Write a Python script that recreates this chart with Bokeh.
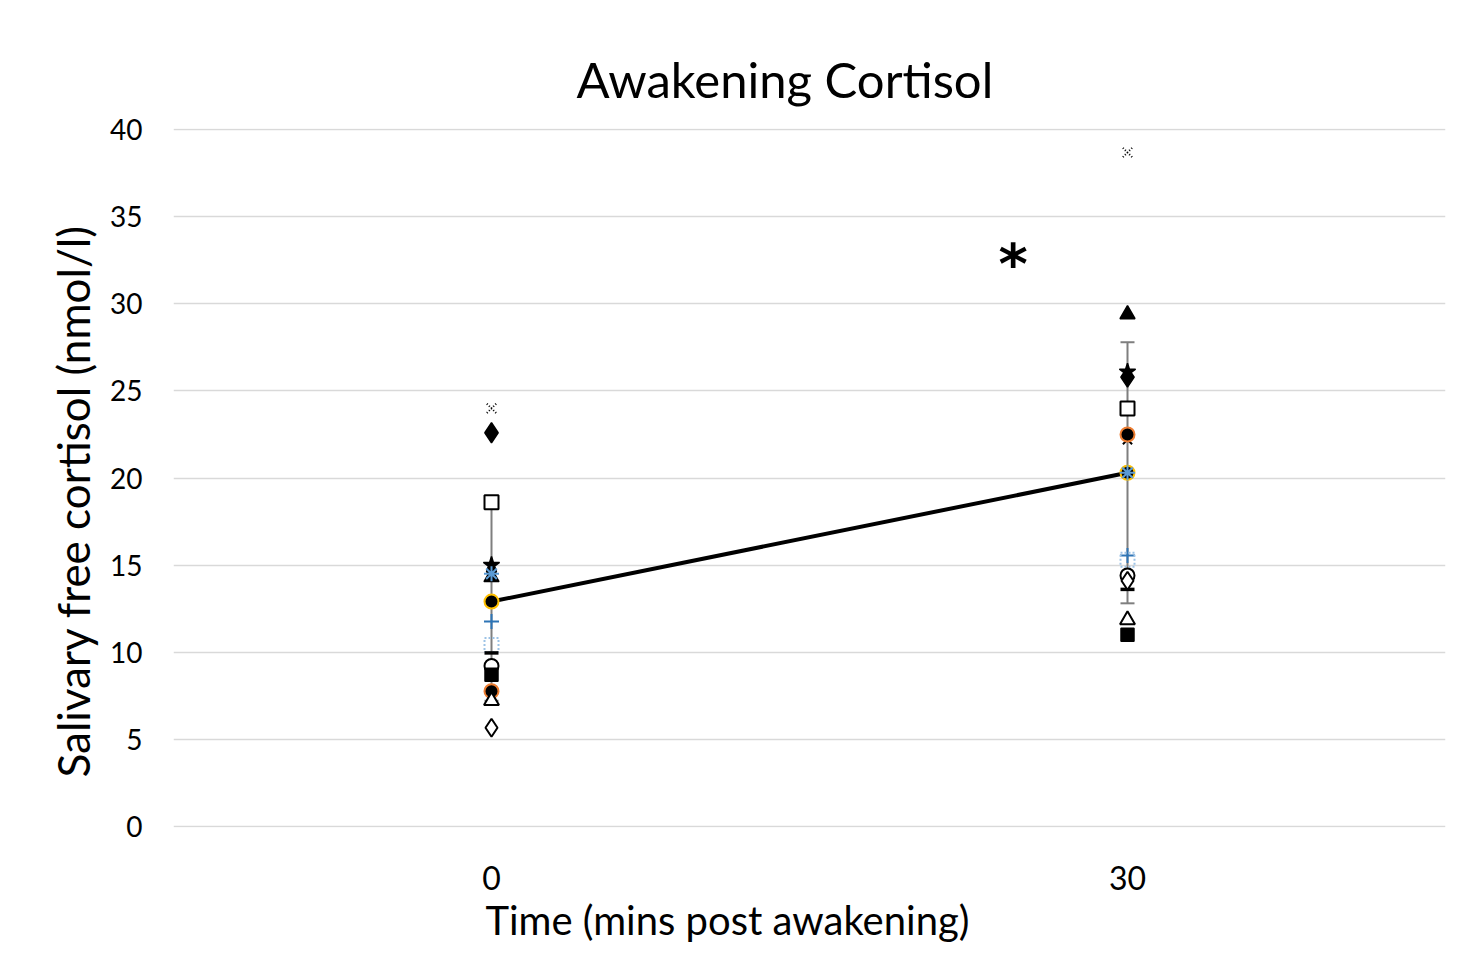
from bokeh.plotting import figure
from bokeh.models import Label, FixedTicker, ColumnDataSource, Whisker, TeeHead, Title
from bokeh.embed import file_html
from bokeh.resources import INLINE

FONT = "Lato"

times = [0, 30]
tick_labels = {0: "0", 30: "30"}

# individual subjects: value at 0 min, value at 30 min
s_dotx    = [24.0, 38.7]
s_fdiam   = [22.6, 25.8]
s_osq     = [18.6, 24.0]
s_star    = [15.0, 26.1]
s_xblack  = [14.8, 22.2]
s_bast    = [14.5, 20.3]
s_ftri    = [14.3, 29.4]
s_bplus   = [11.75, 15.55]
s_dsq     = [10.4, 15.3]
s_dash    = [9.95, 13.6]
s_ocirc   = [9.2, 14.4]
s_fsq     = [8.7, 11.0]
s_orcirc  = [7.75, 22.5]
s_otri    = [7.2, 11.85]
s_odiam   = [5.65, 14.1]

mean_vals = [12.9, 20.3]
sd_vals = [5.7, 7.5]

p = figure(width=1453, height=945, output_backend="svg", toolbar_location=None,
           x_range=(-15, 45), y_range=(-0.08, 40.08),
           min_border_left=173, min_border_right=8, min_border_top=128, min_border_bottom=118)
p.outline_line_color = None
p.xgrid.grid_line_color = None
p.ygrid.grid_line_color = "#d9d9d9"
p.ygrid.grid_line_width = 1.5
p.xaxis.ticker = FixedTicker(ticks=times)
p.yaxis.ticker = FixedTicker(ticks=[0, 5, 10, 15, 20, 25, 30, 35, 40])
p.xaxis.major_label_overrides = tick_labels
for ax in (p.xaxis, p.yaxis):
    ax.axis_line_color = None
    ax.major_tick_line_color = None
    ax.minor_tick_line_color = None
    ax.major_label_text_font = FONT
    ax.major_label_text_color = "#000000"
p.xaxis.major_label_text_font_size = "32px"
p.yaxis.major_label_text_font_size = "28px"
p.xaxis.major_label_standoff = 32
p.yaxis.major_label_standoff = 25

# title
p.title.text = "Awakening Cortisol"
p.title.text_font = FONT
p.title.text_font_size = "49px"
p.title.text_font_style = "normal"
p.title.text_color = "black"
p.title.align = "left"
p.title.offset = 403
p.title.standoff = 41

# axis titles as positioned titles
p.add_layout(Title(text="Time (mins post awakening)", text_font=FONT, text_font_size="40px",
                   text_font_style="normal", text_color="black", align="left", offset=312,
                   standoff=2), "below")
p.add_layout(Title(text="Salivary free cortisol (nmol/l)", text_font=FONT, text_font_size="44px",
                   text_font_style="normal", text_color="black", align="left", offset=50,
                   standoff=18), "left")

# error bars
src = ColumnDataSource(dict(x=times, lo=[m - s for m, s in zip(mean_vals, sd_vals)],
                            hi=[m + s for m, s in zip(mean_vals, sd_vals)]))
w = Whisker(source=src, base="x", lower="lo", upper="hi", dimension="height",
            line_color="#7f7f7f", line_width=2,
            upper_head=TeeHead(size=14, line_color="#7f7f7f", line_width=2),
            lower_head=TeeHead(size=14, line_color="#7f7f7f", line_width=2))
p.add_layout(w)

# mean line
p.line(times, mean_vals, line_color="black", line_width=4)
p.scatter(times, mean_vals, marker="circle", size=14, fill_color="black",
          line_color="#ffc000", line_width=2)

def sc(vals, marker, size=13, fill="black", line="black", lw=1.5, dash="solid"):
    p.scatter(times, vals, marker=marker, size=size, fill_color=fill,
              line_color=line, line_width=lw, line_dash=dash)

sc(s_dotx, "x", size=13, line="black", lw=2, dash="1 2")
sc(s_fdiam, "diamond", size=20)
sc(s_osq, "square", size=14, fill="white", lw=2)
sc(s_star, "star", size=17)
sc(s_xblack, "x", size=13, lw=2)
sc(s_ftri, "triangle", size=15)
sc(s_bast, "asterisk", size=15, fill=None, line="#5b9bd5", lw=2)
sc(s_bplus, "cross", size=15, fill=None, line="#2e75b6", lw=2)
sc(s_dsq, "square", size=14, fill=None, line="#9dc3e6", lw=2, dash="2 2")
sc(s_dash, "dash", size=14, lw=3.5)
sc(s_ocirc, "circle", size=14, fill="white", lw=2)
sc(s_fsq, "square", size=13)
sc(s_orcirc, "circle", size=14, fill="black", line="#ed7d31", lw=2)
sc(s_otri, "triangle", size=15, fill="white", lw=2)
sc(s_odiam, "diamond", size=18, fill="white", lw=2)

# significance star
p.add_layout(Label(x=24.6, y=32.3, text="*", text_font="DejaVu Sans", text_font_size="56px",
                   text_font_style="bold", text_color="black", text_align="center",
                   text_baseline="alphabetic"))

open("out.html", "w").write(file_html(p, INLINE))
